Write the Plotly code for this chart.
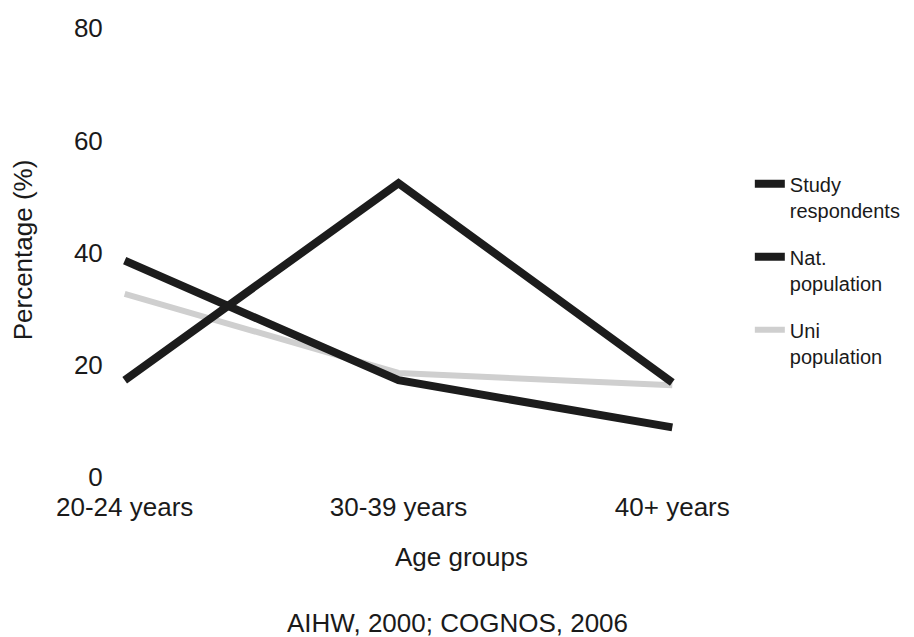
import plotly.graph_objects as go

age_groups = ["20-24 years", "30-39 years", "40+ years"]
study_respondents = [17.3, 52.4, 16.9]
nat_population = [38.6, 17.3, 8.9]
uni_population = [32.7, 18.6, 16.4]
y_ticks = [0, 20, 40, 60, 80]

FONT = "Liberation Sans, Arial, sans-serif"

fig = go.Figure()
fig.add_trace(go.Scatter(x=age_groups, y=uni_population, mode="lines",
                         name="Uni<br>population", legendrank=3, legendgroup="uni",
                         line=dict(color="#cfcfcf", width=6)))
fig.add_trace(go.Scatter(x=age_groups, y=nat_population, mode="lines",
                         name="Nat.<br>population", legendrank=2, legendgroup="nat",
                         line=dict(color="#1c1c1c", width=8)))
fig.add_trace(go.Scatter(x=age_groups, y=study_respondents, mode="lines",
                         name="Study<br>respondents", legendrank=1, legendgroup="study",
                         line=dict(color="#1c1c1c", width=8)))

fig.update_layout(
    width=906, height=629,
    paper_bgcolor="white", plot_bgcolor="white",
    margin=dict(l=103, r=228, t=9, b=154, autoexpand=False),
    font=dict(family=FONT, size=26, color="#1a1a1a"),
    showlegend=True,
    legend=dict(x=1.111, y=0.684, xanchor="left", yanchor="top",
                valign="top",
                font=dict(size=20, family=FONT), tracegroupgap=18,
                itemwidth=30, bgcolor="rgba(0,0,0,0)"),
    xaxis=dict(type="category", range=[-0.05, 2.05], showgrid=False,
               zeroline=False, showline=False, ticks="outside", ticklen=1,
               tickcolor="white"),
    yaxis=dict(range=[-1, 82], tickvals=y_ticks, showgrid=False,
               zeroline=False, showline=False, ticks="outside", ticklen=2,
               tickcolor="white",
               title=dict(text="Percentage (%)", standoff=36,
                          font=dict(size=26))),
)

fig.add_annotation(text="Age groups", xref="paper", yref="paper",
                   x=0.610, y=-0.1598, xanchor="center", yanchor="middle",
                   showarrow=False, font=dict(size=26, family=FONT))
fig.add_annotation(text="AIHW, 2000; COGNOS, 2006", xref="paper", yref="paper",
                   x=0.602, y=-0.2994, xanchor="center", yanchor="middle",
                   showarrow=False, font=dict(size=26, family=FONT))

fig.write_html("out.html")
